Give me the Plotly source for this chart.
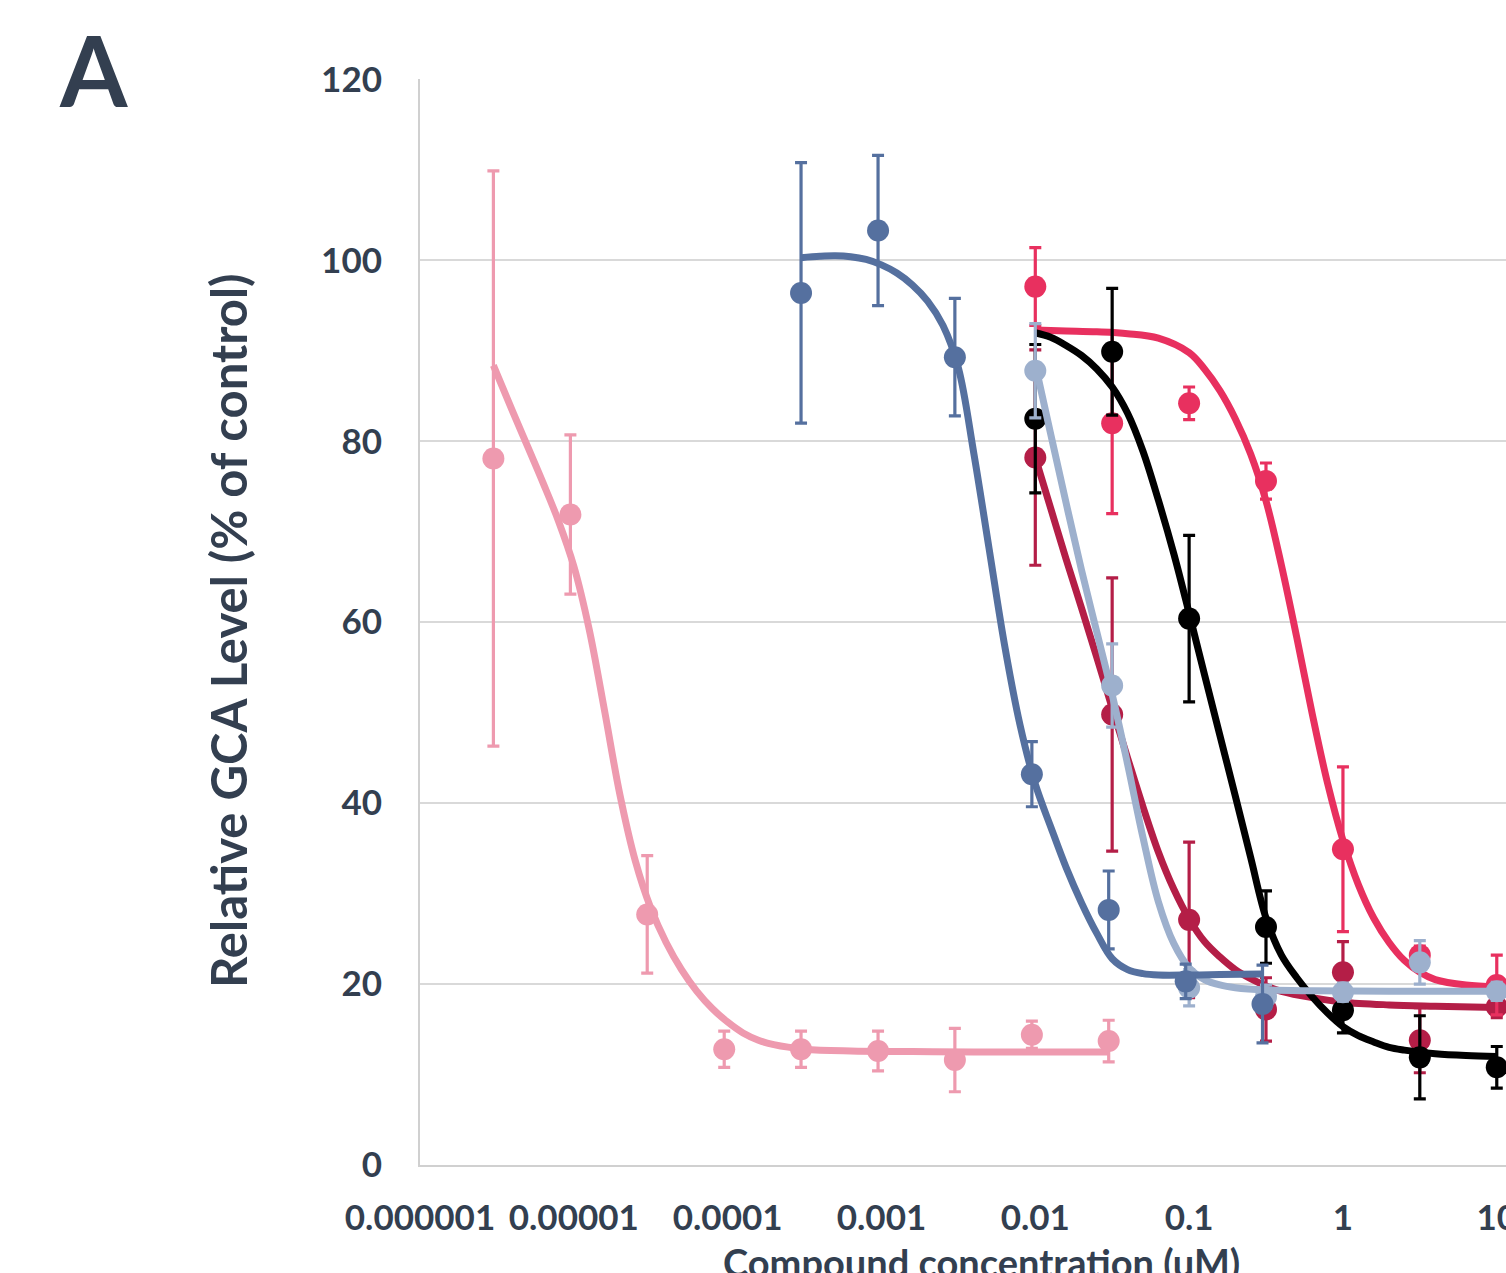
import plotly.graph_objects as go

# ---------------- data ----------------
# concentrations (uM)
conc_pink = [0.000003, 0.0000095, 0.00003, 0.000095, 0.0003, 0.00095, 0.003, 0.0095, 0.03]
conc_blue = [0.0003, 0.00095, 0.003, 0.0095, 0.03, 0.095, 0.3]
conc_main = [0.01, 0.0316, 0.1, 0.316, 1, 3.16, 10]

# measured values (% of control) and error bars
pink_y = [78.1, 71.9, 27.7, 12.8, 12.8, 12.6, 11.6, 14.4, 13.7]
pink_err = [31.8, 8.8, 6.5, 2.0, 2.0, 2.2, 3.5, 1.5, 2.3]

blue_y = [96.4, 103.3, 89.3, 43.2, 28.2, 20.3, 17.8]
blue_err = [14.4, 8.3, 6.5, 3.6, 4.3, 1.9, 4.3]

red_y = [97.1, 82.0, 84.2, 75.6, 34.9, 23.2, 19.9]
red_err = [4.3, 10.0, 1.8, 2.0, 9.1, 1.0, 3.3]

darkred_y = [78.2, 49.8, 27.1, 17.2, 21.3, 13.8, 17.5]
darkred_err = [11.9, 15.1, 8.6, 3.5, 3.4, 3.6, 1.2]

black_y = [82.5, 89.9, 60.4, 26.3, 17.1, 11.9, 10.8]
black_err = [8.2, 7.0, 9.2, 4.0, 2.5, 4.6, 2.3]

lightblue_y = [87.8, 53.0, 19.6, 18.6, 19.1, 22.4, 19.2]
lightblue_err = [5.2, 4.6, 2.0, 1.3, 1.0, 2.4, 1.0]

# fitted dose-response curves (log10 conc, % of control)
pink_curve_logx = [-5.523, -5.4, -5.3, -5.2, -5.1, -5.0, -4.9, -4.8, -4.7, -4.6, -4.5,
                   -4.4, -4.3, -4.2, -4.1, -4.0, -3.9, -3.8, -3.7, -3.5, -3.2, -2.8,
                   -2.4, -2.0, -1.523]
pink_curve_y = [88.4, 83.4, 79.4, 75.4, 71.2, 66.2, 59.2, 50.2, 40.9, 33.6, 28.4,
                24.6, 21.6, 19.2, 17.3, 15.8, 14.6, 13.8, 13.3, 12.8, 12.6, 12.55,
                12.5, 12.5, 12.5]

blue_curve_logx = [-3.523, -3.4, -3.3, -3.2, -3.1, -3.0, -2.9, -2.8, -2.7, -2.6, -2.5,
                   -2.4, -2.3, -2.2, -2.1, -2.0, -1.9, -1.8, -1.7, -1.6, -1.5, -1.4,
                   -1.3, -1.2, -1.0, -0.8, -0.523]
blue_curve_y = [100.3, 100.45, 100.5, 100.4, 100.1, 99.5, 98.6, 97.3, 95.5, 92.8, 88.1,
                78.7, 68.1, 57.5, 48.7, 42.1, 37.4, 32.9, 29.0, 25.6, 22.8, 21.6,
                21.15, 21.0, 21.0, 21.05, 21.1]

red_curve_logx = [-2.0, -1.8, -1.6, -1.4, -1.2, -1.0, -0.9, -0.8, -0.7, -0.6, -0.5,
                  -0.4, -0.3, -0.2, -0.1, 0.0, 0.1, 0.2, 0.3, 0.4, 0.5, 0.6, 0.8, 1.0]
red_curve_y = [92.3, 92.2, 92.1, 91.9, 91.4, 89.8, 88.0, 85.6, 82.5, 78.6, 73.4,
               66.3, 58.3, 49.9, 42.2, 35.9, 31.0, 27.3, 24.6, 22.6, 21.3, 20.5, 19.9, 19.7]

black_curve_logx = [-2.0, -1.9, -1.8, -1.7, -1.6, -1.5, -1.4, -1.3, -1.2, -1.1, -1.0,
                    -0.9, -0.8, -0.7, -0.6, -0.5, -0.4, -0.3, -0.2, -0.1, 0.0, 0.1,
                    0.2, 0.3, 0.4, 0.6, 0.8, 1.0]
black_curve_y = [92.0, 91.5, 90.6, 89.5, 88.0, 86.0, 83.1, 78.9, 73.5, 67.6, 61.0,
                 54.2, 47.5, 40.8, 34.0, 27.3, 23.2, 20.7, 18.6, 16.8, 15.3, 14.3,
                 13.6, 13.0, 12.7, 12.3, 12.1, 12.0]

darkred_curve_logx = [-2.0, -1.9, -1.8, -1.7, -1.6, -1.5, -1.4, -1.3, -1.2, -1.1, -1.0,
                      -0.9, -0.8, -0.7, -0.6, -0.5, -0.4, -0.2, 0.0, 0.3, 0.6, 1.0]
darkred_curve_y = [78.2, 72.6, 67.0, 61.6, 56.1, 50.5, 45.0, 39.6, 34.6, 30.5, 27.2,
                   24.7, 23.0, 21.6, 20.6, 19.8, 19.2, 18.5, 18.0, 17.7, 17.55, 17.4]

lightblue_curve_logx = [-2.0, -1.9, -1.8, -1.7, -1.6, -1.5, -1.4, -1.3, -1.2, -1.1, -1.0,
                        -0.9, -0.8, -0.7, -0.5, -0.2, 0.3, 1.0]
lightblue_curve_y = [88.5, 80.8, 73.2, 65.8, 58.9, 52.0, 44.3, 36.2, 29.1, 24.5, 21.8,
                     20.5, 19.9, 19.6, 19.35, 19.25, 19.2, 19.2]

x_tickvals = [0.000001, 0.00001, 0.0001, 0.001, 0.01, 0.1, 1, 10]
x_ticktext = ["0.000001", "0.00001", "0.0001", "0.001", "0.01", "0.1", "1", "10"]
y_tickvals = [0, 20, 40, 60, 80, 100, 120]

# ---------------- styling ----------------
TEXT = "#333f50"
FONT = "Lato, 'Open Sans', sans-serif"
COL = {
    "pink": "#EE9AAF",
    "blue": "#55709F",
    "red": "#E8305F",
    "darkred": "#B41E47",
    "black": "#000000",
    "lightblue": "#9DB0CD",
}

fig = go.Figure()


def add_series(name, conc, y, err, cx_log, cy):
    c = COL[name]
    fig.add_trace(go.Scatter(
        x=[10 ** v for v in cx_log], y=cy, mode="lines",
        line=dict(color=c, width=7, shape="spline", smoothing=1.0),
        hoverinfo="skip", showlegend=False))
    fig.add_trace(go.Scatter(
        x=conc, y=y, mode="markers",
        marker=dict(color=c, size=22, line=dict(width=0)),
        error_y=dict(type="data", array=err, visible=True, color=c,
                     thickness=3.2, width=6),
        showlegend=False, name=name))


add_series("pink", conc_pink, pink_y, pink_err, pink_curve_logx, pink_curve_y)
add_series("darkred", conc_main, darkred_y, darkred_err, darkred_curve_logx, darkred_curve_y)
add_series("red", conc_main, red_y, red_err, red_curve_logx, red_curve_y)
add_series("black", conc_main, black_y, black_err, black_curve_logx, black_curve_y)
add_series("lightblue", conc_main, lightblue_y, lightblue_err, lightblue_curve_logx, lightblue_curve_y)
add_series("blue", conc_blue, blue_y, blue_err, blue_curve_logx, blue_curve_y)

fig.update_layout(
    width=1506, height=1273,
    margin=dict(l=420, r=0, t=79, b=108, pad=0),
    paper_bgcolor="white", plot_bgcolor="white",
    font=dict(family=FONT, color=TEXT, size=35, weight=700),
    showlegend=False,
    xaxis=dict(
        type="log", range=[-6, 1.06], automargin=False,
        tickvals=x_tickvals, ticktext=x_ticktext,
        showgrid=False, zeroline=False,
        showline=True, linecolor="#d0d0d0", linewidth=2,
        ticks="", ticklabelstandoff=21, ticklabeloverflow="allow",
        tickfont=dict(family=FONT, size=35, color=TEXT, weight=700),
    ),
    yaxis=dict(
        range=[0, 120.05], tickvals=y_tickvals, automargin=False,
        showgrid=True, gridcolor="#d9d9d9", gridwidth=2,
        zeroline=False, showline=True, linecolor="#d0d0d0", linewidth=2,
        ticks="", ticklabelstandoff=29,
        tickfont=dict(family=FONT, size=35, color=TEXT, weight=700),
    ),
    annotations=[
        dict(text="A", xref="paper", yref="paper", x=-0.3005, y=1.009,
             xanchor="center", yanchor="middle", showarrow=False,
             font=dict(family=FONT, size=97, color=TEXT, weight=700)),
        dict(text="Relative GCA Level (% of control)", xref="paper", yref="paper",
             x=-0.1768, y=0.4926, xanchor="center", yanchor="middle", textangle=-90,
             showarrow=False,
             font=dict(family=FONT, size=49, color=TEXT, weight=700)),
        dict(text="Compound concentration (uM)", xref="paper", yref="paper",
             x=0.5166, y=-0.066, xanchor="center", yanchor="top", showarrow=False,
             font=dict(family=FONT, size=38, color=TEXT, weight=700)),
    ],
)

fig.write_html("out.html")
